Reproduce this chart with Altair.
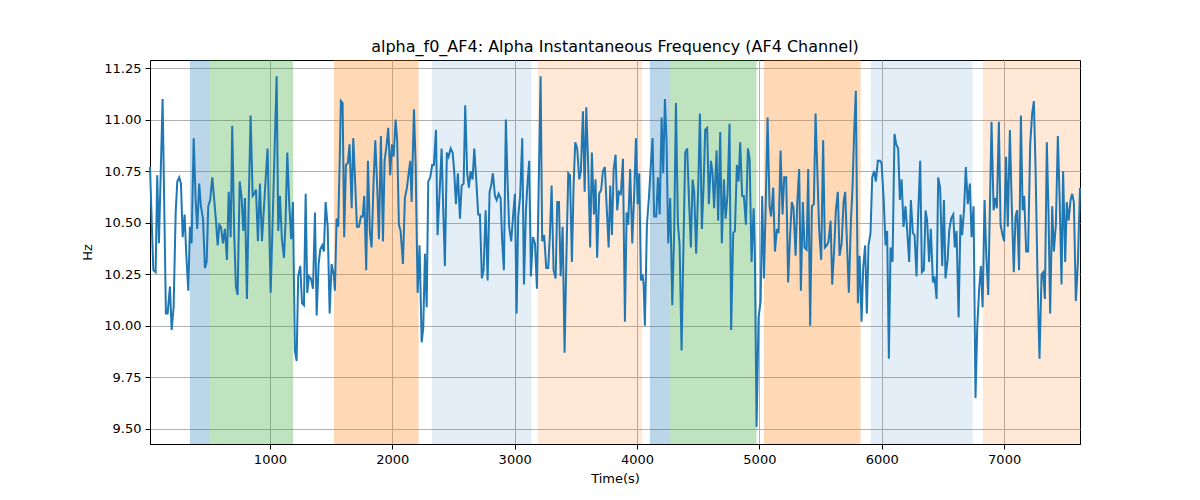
import altair as alt
import pandas as pd

# Time (s) of each sample and Alpha instantaneous frequency (Hz)
times = [
    20, 47, 66, 79, 93, 123, 150, 164, 183, 197, 213, 230, 243, 259, 273, 287, 303, 316, 333, 346,
    360, 377, 393, 406, 422, 436, 453, 469, 483, 496, 512, 529, 545, 559, 573, 586, 600, 616, 632, 649,
    663, 679, 692, 708, 722, 736, 753, 769, 782, 796, 812, 826, 842, 859, 872, 886, 902, 918, 935, 951,
    967, 981, 1006, 1055, 1068, 1082, 1098, 1115, 1128, 1142, 1158, 1174, 1188, 1204, 1218, 1231, 1248, 1262, 1278, 1292,
    1305, 1319, 1335, 1352, 1368, 1382, 1398, 1411, 1427, 1441, 1455, 1472, 1488, 1504, 1521, 1531, 1545, 1558, 1572, 1580,
    1594, 1607, 1621, 1637, 1651, 1668, 1681, 1695, 1711, 1727, 1744, 1758, 1771, 1787, 1801, 1817, 1831, 1847, 1861, 1877,
    1891, 1907, 1924, 1937, 1954, 1967, 1983, 1997, 2011, 2027, 2040, 2054, 2068, 2087, 2103, 2120, 2134, 2147, 2158, 2177,
    2191, 2207, 2223, 2240, 2253, 2267, 2281, 2294, 2310, 2326, 2340, 2357, 2370, 2387, 2403, 2416, 2430, 2446, 2460, 2477,
    2493, 2506, 2520, 2536, 2553, 2567, 2583, 2596, 2612, 2626, 2640, 2656, 2670, 2686, 2702, 2716, 2732, 2746, 2763, 2779,
    2795, 2808, 2822, 2839, 2853, 2869, 2885, 2898, 2912, 2928, 2942, 2955, 2972, 2988, 3002, 3016, 3029, 3045, 3062, 3076,
    3092, 3106, 3119, 3133, 3149, 3166, 3182, 3212, 3225, 3241, 3258, 3274, 3288, 3302, 3318, 3335, 3348, 3362, 3376, 3392,
    3408, 3421, 3438, 3452, 3468, 3482, 3495, 3511, 3528, 3541, 3558, 3572, 3585, 3601, 3617, 3631, 3648, 3661, 3674, 3691,
    3707, 3721, 3737, 3751, 3768, 3781, 3795, 3809, 3825, 3838, 3852, 3868, 3885, 3901, 3915, 3928, 3944, 3961, 3977, 3991,
    4005, 4018, 4032, 4045, 4054, 4064, 4081, 4097, 4113, 4127, 4140, 4157, 4171, 4185, 4201, 4214, 4228, 4241, 4255, 4271,
    4288, 4304, 4318, 4334, 4348, 4364, 4377, 4394, 4410, 4426, 4440, 4454, 4467, 4483, 4500, 4514, 4530, 4544, 4557, 4573,
    4587, 4604, 4617, 4630, 4650, 4663, 4680, 4693, 4710, 4724, 4740, 4756, 4769, 4786, 4800, 4816, 4830, 4843, 4859, 4873,
    4890, 4906, 4920, 4936, 4953, 4963, 4977, 4993, 5010, 5023, 5037, 5053, 5067, 5083, 5096, 5113, 5127, 5143, 5157, 5173,
    5189, 5203, 5219, 5235, 5249, 5265, 5279, 5296, 5309, 5325, 5339, 5355, 5369, 5386, 5399, 5415, 5429, 5445, 5459, 5476,
    5489, 5505, 5521, 5535, 5551, 5565, 5582, 5595, 5611, 5625, 5641, 5655, 5672, 5688, 5701, 5717, 5731, 5748, 5761, 5774,
    5788, 5805, 5819, 5835, 5848, 5864, 5878, 5892, 5908, 5922, 5938, 5952, 5968, 5985, 5998, 6015, 6031, 6044, 6058, 6072,
    6088, 6104, 6118, 6134, 6148, 6162, 6178, 6194, 6208, 6224, 6238, 6254, 6268, 6284, 6297, 6314, 6328, 6344, 6358, 6371,
    6387, 6401, 6418, 6431, 6448, 6461, 6477, 6494, 6508, 6521, 6538, 6551, 6567, 6584, 6597, 6611, 6628, 6644, 6657, 6673,
    6687, 6703, 6720, 6734, 6750, 6766, 6780, 6796, 6810, 6824, 6840, 6853, 6870, 6897, 6914, 6927, 6941, 6957, 6971, 6987,
    7000, 7016, 7030, 7047, 7063, 7079, 7093, 7106, 7122, 7137, 7151, 7164, 7180, 7196, 7213, 7229, 7243, 7257, 7273, 7289,
    7306, 7319, 7333, 7349, 7363, 7376, 7393, 7406, 7423, 7439, 7453, 7469, 7482, 7499, 7512, 7527, 7543, 7556, 7570, 7586,
    7603, 7620,
]

values = [
    10.77, 10.27, 10.26, 10.73, 10.40, 11.10, 10.06, 10.06, 10.19, 9.98, 10.09, 10.55, 10.70, 10.72, 10.69, 10.43, 10.54, 10.35, 10.17, 10.48,
    10.40, 10.91, 10.61, 10.47, 10.69, 10.58, 10.52, 10.28, 10.31, 10.58, 10.61, 10.72, 10.61, 10.51, 10.39, 10.49, 10.48, 10.40, 10.47, 10.32,
    10.65, 10.43, 10.97, 10.45, 10.19, 10.15, 10.70, 10.62, 10.46, 10.62, 10.13, 10.57, 11.02, 10.63, 10.64, 10.66, 10.41, 10.69, 10.41, 10.57,
    10.73, 10.86, 10.16, 11.21, 10.46, 10.63, 10.42, 10.33, 10.51, 10.84, 10.59, 10.42, 10.60, 9.88, 9.83, 10.24, 10.29, 10.11, 10.10, 10.64,
    10.16, 10.24, 10.23, 10.18, 10.55, 10.05, 10.30, 10.37, 10.39, 10.36, 10.60, 10.48, 10.06, 10.30, 10.25, 10.17, 10.52, 10.48, 10.85, 11.09,
    11.08, 10.43, 10.78, 10.79, 10.88, 10.57, 10.91, 10.72, 10.48, 10.48, 10.53, 10.53, 10.63, 10.27, 10.80, 10.45, 10.38, 10.70, 10.90, 10.67,
    10.42, 10.92, 10.41, 10.80, 10.88, 10.96, 10.73, 10.88, 10.82, 11.00, 10.90, 10.49, 10.46, 10.30, 10.62, 10.67, 10.74, 10.80, 10.60, 11.05,
    10.78, 10.16, 10.39, 9.92, 9.99, 10.35, 10.09, 10.70, 10.72, 10.78, 10.78, 10.95, 10.44, 10.65, 10.86, 10.57, 10.29, 10.84, 10.82, 10.86,
    10.84, 10.75, 10.59, 10.74, 10.52, 10.68, 10.69, 11.07, 10.74, 10.67, 10.75, 10.71, 10.86, 10.71, 10.54, 10.54, 10.23, 10.27, 10.56, 10.22,
    10.65, 10.68, 10.74, 10.63, 10.61, 10.64, 10.62, 10.41, 10.27, 11.00, 10.70, 10.48, 10.41, 10.54, 10.64, 10.06, 10.53, 10.63, 10.91, 10.20,
    10.56, 10.70, 10.80, 10.24, 10.43, 10.40, 10.18, 11.21, 10.41, 10.44, 10.28, 10.28, 10.44, 10.68, 10.27, 10.23, 10.60, 10.60, 10.24, 10.48,
    9.87, 10.28, 10.74, 10.73, 10.31, 10.69, 10.89, 10.86, 10.71, 10.75, 11.04, 10.65, 11.06, 10.78, 10.38, 10.84, 10.54, 10.71, 10.33, 10.64,
    10.66, 10.75, 10.77, 10.59, 10.38, 10.68, 10.44, 10.76, 10.83, 10.56, 10.65, 10.64, 10.81, 10.02, 10.55, 10.49, 10.76, 10.40, 10.64, 10.91,
    10.59, 10.74, 10.22, 10.25, 10.20, 10.00, 10.49, 10.62, 10.78, 10.91, 10.53, 10.53, 10.72, 10.54, 11.01, 10.74, 11.10, 10.90, 10.40, 10.62,
    10.10, 10.46, 11.08, 10.50, 10.39, 9.88, 10.31, 10.84, 10.86, 10.59, 10.38, 10.71, 10.65, 10.35, 10.67, 11.03, 10.47, 10.68, 10.95, 10.96,
    10.59, 10.80, 10.74, 10.57, 10.85, 10.51, 10.94, 10.40, 10.71, 10.52, 10.64, 10.98, 9.98, 10.45, 10.46, 10.78, 10.70, 10.89, 10.63, 10.63,
    10.49, 10.86, 10.81, 10.31, 10.57, 10.35, 9.51, 10.04, 10.12, 10.63, 10.23, 10.62, 11.01, 10.58, 10.53, 10.67, 10.36, 10.47, 10.45, 10.85,
    10.54, 10.72, 10.72, 10.21, 10.42, 10.60, 10.57, 10.34, 10.59, 10.76, 10.17, 10.60, 10.38, 10.37, 10.76, 10.00, 10.58, 10.59, 11.03, 10.70,
    10.46, 10.32, 10.90, 10.38, 10.39, 10.41, 10.51, 10.20, 10.37, 10.56, 10.65, 10.34, 10.40, 10.60, 10.65, 10.38, 10.16, 10.51, 10.67, 10.93,
    11.14, 10.11, 10.34, 10.02, 10.28, 10.39, 10.06, 10.39, 10.45, 10.72, 10.75, 10.70, 10.80, 10.80, 10.79, 10.62, 10.39, 10.46, 9.84, 10.38,
    10.31, 10.93, 10.88, 10.86, 10.61, 10.71, 10.48, 10.58, 10.46, 10.31, 10.61, 10.45, 10.44, 10.24, 10.53, 10.80, 10.26, 10.27, 10.56, 10.51,
    10.31, 10.47, 10.21, 10.24, 10.13, 10.72, 10.67, 10.29, 10.61, 10.23, 10.32, 10.46, 10.52, 10.54, 10.38, 10.46, 10.04, 10.54, 10.44, 10.57,
    10.77, 10.59, 10.69, 10.43, 10.58, 9.65, 9.99, 10.18, 10.29, 10.09, 10.61, 10.36, 10.15, 10.99, 10.56, 10.62, 10.57, 10.99, 10.49, 10.44,
    10.41, 10.82, 10.48, 10.95, 10.57, 10.26, 10.53, 10.56, 10.27, 11.02, 10.56, 10.63, 10.36, 10.36, 10.88, 11.03, 11.09, 10.76, 10.23, 9.84,
    10.25, 10.26, 10.13, 10.89, 10.54, 10.06, 10.58, 10.36, 10.49, 10.92, 10.63, 10.20, 10.75, 10.31, 10.60, 10.51, 10.61, 10.64, 10.60, 10.12,
    10.31, 10.67,
]

# Shaded segments (s)
band_start = [346, 510, 1523, 2324, 3188, 4105, 4271, 5037, 5911, 6826]
band_end = [510, 1190, 2215, 3138, 4042, 4271, 4977, 5827, 6742, 7620]
band_kind = ["A", "B", "C", "D", "E", "A", "B", "C", "D", "E"]

# style per band kind
kind_color = {"A": "#1f77b4", "B": "#2ca02c", "C": "#ff7f0e", "D": "#1f77b4", "E": "#ff7f0e"}
kind_alpha = {"A": 0.3, "B": 0.3, "C": 0.3, "D": 0.12, "E": 0.17}

x_ticks = [1000, 2000, 3000, 4000, 5000, 6000, 7000]
y_ticks = [9.5, 9.75, 10.0, 10.25, 10.5, 10.75, 11.0, 11.25]

line_df = pd.DataFrame({"t": times, "v": values})
band_df = pd.DataFrame({"start": band_start, "end": band_end, "kind": band_kind})
band_df["fillc"] = band_df["kind"].map(kind_color)
band_df["alpha"] = band_df["kind"].map(kind_alpha)

xscale = alt.Scale(domain=[20, 7620], nice=False, zero=False)
yscale = alt.Scale(domain=[9.427, 11.289], nice=False, zero=False)

xaxis = alt.Axis(values=x_ticks, format="d", title="Time(s)", titlePadding=6)
yaxis = alt.Axis(values=y_ticks, format=".2f", title="Hz", titlePadding=9)

bands = alt.Chart(band_df).mark_rect().encode(
    x=alt.X("start:Q", scale=xscale, axis=xaxis),
    x2="end:Q",
    color=alt.Color("fillc:N", scale=None, legend=None),
    opacity=alt.Opacity("alpha:Q", scale=None, legend=None),
)

line = alt.Chart(line_df).mark_line(color="#1f77b4", strokeWidth=2).encode(
    x=alt.X("t:Q", scale=xscale, axis=xaxis),
    y=alt.Y("v:Q", scale=yscale, axis=yaxis),
)

chart = (
    alt.layer(bands, line)
    .properties(
        width=930,
        height=384,
        title=alt.TitleParams(
            "alpha_f0_AF4: Alpha Instantaneous Frequency (AF4 Channel)",
            anchor="middle",
            offset=5,
        ),
        autosize=alt.AutoSizeParams(type="none"),
        padding={"left": 142, "top": 52, "right": 110, "bottom": 40},
    )
    .configure_axis(
        grid=True,
        gridColor="#b0b0b0",
        gridWidth=1,
        domainColor="black",
        tickColor="black",
        tickSize=5,
        labelPadding=4,
        labelColor="black",
        labelFont="DejaVu Sans",
        labelFontSize=13,
        titleFont="DejaVu Sans",
        titleFontSize=13,
        titleFontWeight="normal",
        titleColor="black",
    )
    .configure_view(stroke="black", strokeWidth=1)
    .configure_title(font="DejaVu Sans", fontSize=16, fontWeight="normal", color="black")
)

chart.save("out.html", embed_options={"renderer": "svg", "actions": False})
